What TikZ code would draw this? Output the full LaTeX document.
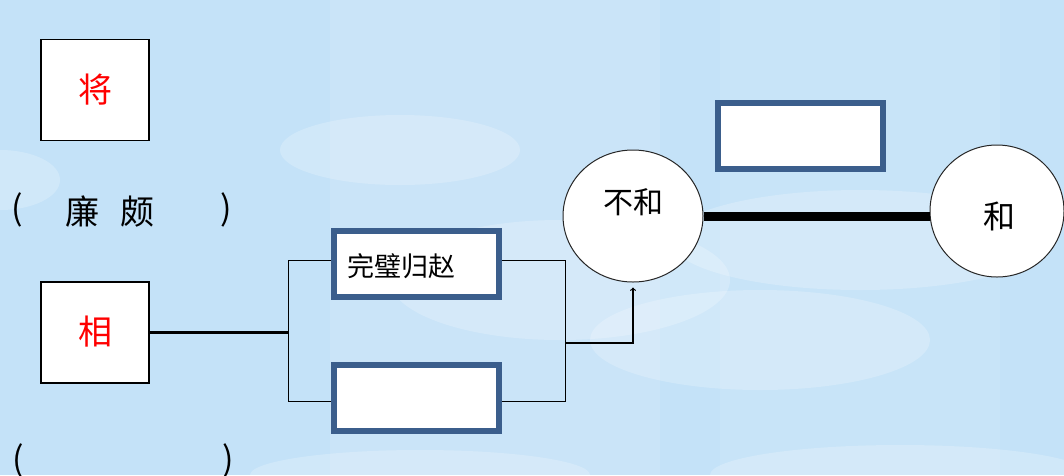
\documentclass[tikz,border=0pt]{standalone}
\usepackage{fontspec}
\newfontfamily\cjk{Noto Sans CJK SC}
\usetikzlibrary{shapes.geometric}
\definecolor{sky}{HTML}{C4E2F8}
\definecolor{boxblue}{HTML}{3B5E8C}
\tikzset{
  namebox/.style={draw=black,fill=white,minimum width=108pt,minimum height=101pt,inner sep=0pt,text=red,font=\cjk\fontsize{34}{34}\selectfont},
  eventbox/.style={draw=boxblue,line width=6pt,fill=white,minimum width=165pt,minimum height=66pt,inner sep=0pt},
  bubble/.style={ellipse,draw=black!85,fill=white,line width=1pt,inner sep=0pt},
  cloud/.style={fill=white,opacity=0.22},
  word/.style={font=\cjk\fontsize{30}{30}\selectfont},
  bigword/.style={font=\cjk\fontsize{34}{34}\selectfont}
}
\begin{document}
\begin{tikzpicture}[x=1pt,y=-1pt]
  % background
  \fill[sky] (0,0) rectangle (1064,475);
  \useasboundingbox (0,0) rectangle (1064,475);
  \fill[white,opacity=0.1] (330,0) rectangle (660,475);
  \fill[white,opacity=0.07] (720,0) rectangle (1000,475);
  \fill[cloud] (0,180) ellipse (60 and 30);
  \fill[cloud] (400,150) ellipse (120 and 35);
  \fill[cloud] (560,280) ellipse (170 and 60);
  \fill[cloud] (860,240) ellipse (190 and 50);
  \fill[cloud] (760,340) ellipse (170 and 50);
  \fill[cloud] (420,475) ellipse (170 and 25);
  \fill[cloud] (900,475) ellipse (190 and 30);
  % names
  \node[namebox,line width=1.2pt] (jiang) at (95,90) {将};
  \node[bigword] (lpleft) at (17,210) {(};
  \node[bigword] (lian) at (82,212) {廉};
  \node[bigword] (po) at (137,212) {颇};
  \node[bigword] (lpright) at (226,210) {)};
  \node[namebox,line width=2pt] (xiang) at (95,332) {相};
  \node[bigword] (xleft) at (18,461) {(};
  \node[bigword] (xright) at (228,461) {)};
  % bracket of events
  \coordinate (brnw) at (288,260);
  \coordinate (brse) at (565,401);
  \draw[line width=3pt] (xiang.east) -- (xiang.east -| brnw);
  \draw[line width=0.9pt] (brnw) rectangle (brse);
  \node[eventbox] (wanbi) at (416.5,264) {};
  \node[word,anchor=west,font=\cjk\fontsize{27}{27}\selectfont] (wanbitext) at (344,266) {完璧归赵};
  \node[eventbox] (second) at (416.5,397.5) {};
  % relation
  \node[bubble,minimum width=140pt,minimum height=132pt] (buhe) at (633,216) {};
  \node[word] (buhetext) at ([yshift=14pt]buhe.center) {不和};
  \node[eventbox] (cause) at (800.5,136) {};
  \node[bubble,minimum width=134pt,minimum height=132pt] (he) at (997,211) {};
  \node[word,font=\cjk\fontsize{32}{32}\selectfont] (hetext) at (999,216) {和};
  \coordinate (outlet) at (565,343);
  \draw[line width=1.2pt,->,shorten >=5pt] (outlet) -| (buhe.south);
  \draw[line width=9pt] (buhe.east |- 0,216) -- (he.west |- 0,216);
\end{tikzpicture}
\end{document}
